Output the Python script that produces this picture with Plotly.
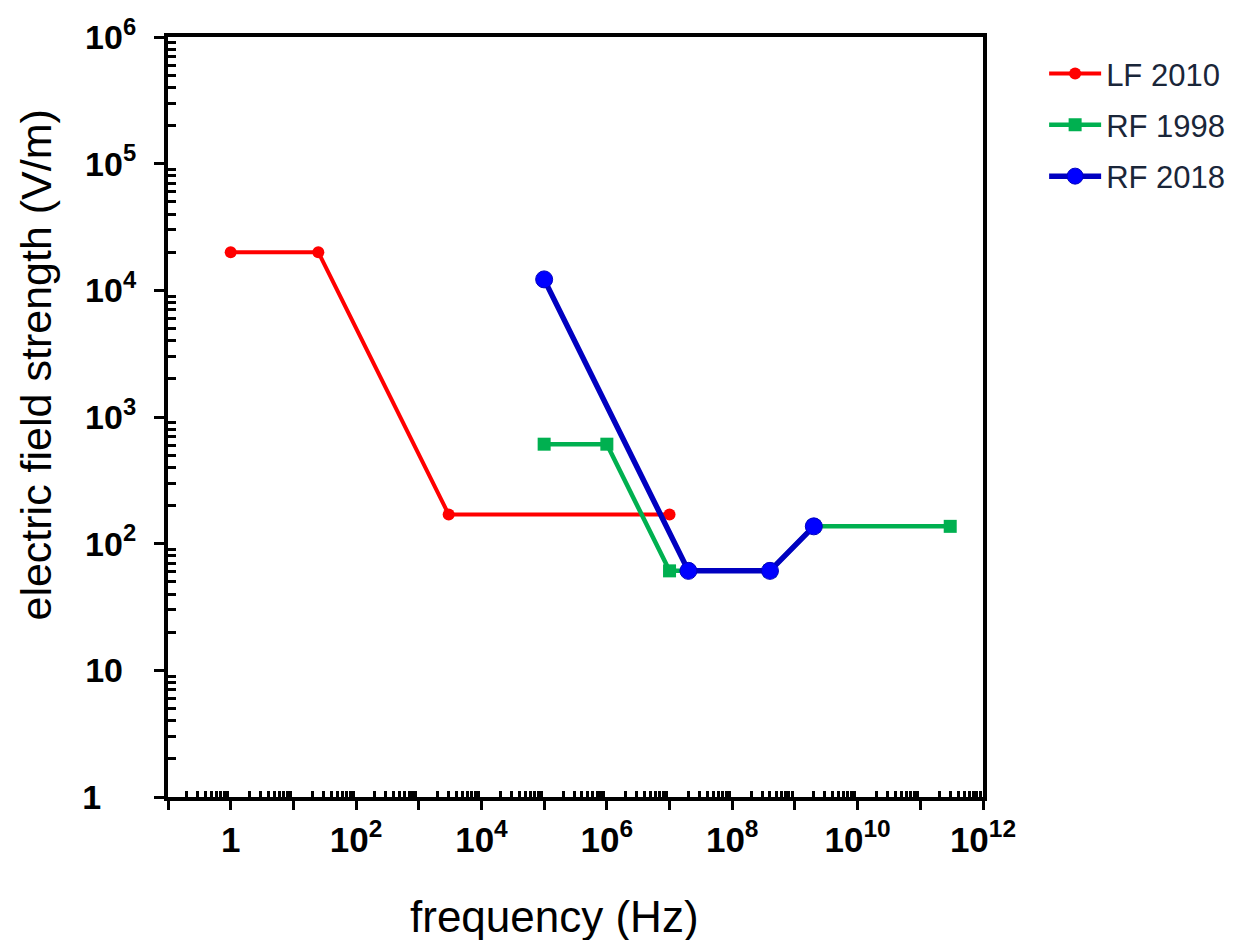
import plotly.graph_objects as go

# ---- data ----
lf2010_freq = [1, 25, 3000, 1e7]
lf2010_e = [20000, 20000, 170, 170]

rf1998_freq = [1e5, 1e6, 1e7, 4e8, 2e9, 3e11]
rf1998_e = [610, 610, 61, 61, 137, 137]

rf2018_freq = [1e5, 2e7, 4e8, 2e9]
rf2018_e = [12200, 61, 61, 137]

NB = "\u00a0"
x_tick_vals = [10.0 ** k for k in range(-1, 13)]
x_tick_text = ["", "<b>1</b>", "", "<b>10<sup>2</sup></b>", "", "<b>10<sup>4</sup></b>", "",
               "<b>10<sup>6</sup></b>", "", "<b>10<sup>8</sup></b>", "", "<b>10<sup>10</sup></b>", "",
               "<b>10<sup>12</sup></b>"]
y_tick_vals = [1, 10, 100, 1e3, 1e4, 1e5, 1e6]
y_tick_text = ["<b>1" + NB * 3 + "<sup>" + NB + "</sup></b>",
               "<b>10<sup>" + NB * 2 + "</sup></b>",
               "<b>10<sup>2</sup></b>", "<b>10<sup>3</sup></b>",
               "<b>10<sup>4</sup></b>", "<b>10<sup>5</sup></b>", "<b>10<sup>6</sup></b>"]

x_minor = [m * 10.0 ** k for k in range(-1, 12) for m in range(2, 10)]
y_minor = [m * 10.0 ** k for k in range(0, 6) for m in range(2, 10)]

FONT = "Liberation Sans, Arial, sans-serif"

fig = go.Figure()
fig.add_trace(go.Scatter(
    x=lf2010_freq, y=lf2010_e, name="LF 2010", mode="lines+markers",
    line=dict(color="#FF0000", width=4),
    marker=dict(symbol="circle", size=12, color="#FF0000"),
    legendgroup="a"))
fig.add_trace(go.Scatter(
    x=rf1998_freq, y=rf1998_e, name="RF 1998", mode="lines+markers",
    line=dict(color="#00B050", width=4.5),
    marker=dict(symbol="square", size=13, color="#00B050"),
    legendgroup="b"))
fig.add_trace(go.Scatter(
    x=rf2018_freq, y=rf2018_e, name="RF 2018", mode="lines+markers",
    line=dict(color="#0000C0", width=5.5),
    marker=dict(symbol="circle", size=17, color="#0000FF", line=dict(color="#0000C0", width=1)),
    legendgroup="c"))

fig.update_xaxes(
    type="log", range=[-1, 12], automargin=False,
    showline=True, linecolor="black", linewidth=4, mirror=True,
    showgrid=False, zeroline=False,
    tickmode="array", tickvals=x_tick_vals, ticktext=x_tick_text,
    ticks="outside", ticklen=9, tickwidth=3, tickcolor="black",
    tickfont=dict(family=FONT, size=35, color="black"),
    minor=dict(tickmode="array", tickvals=x_minor, ticks="inside", ticklen=6,
               tickwidth=3, tickcolor="black", showgrid=False),
)
fig.update_yaxes(
    type="log", range=[0, 6], automargin=False,
    showline=True, linecolor="black", linewidth=4, mirror=True,
    showgrid=False, zeroline=False,
    tickmode="array", tickvals=y_tick_vals, ticktext=y_tick_text,
    ticks="outside", ticklen=10, tickwidth=3, tickcolor="black",
    ticklabelstandoff=11,
    tickfont=dict(family=FONT, size=34, color="black"),
    minor=dict(tickmode="array", tickvals=y_minor, ticks="inside", ticklen=8,
               tickwidth=3, tickcolor="black", showgrid=False),
)

fig.add_annotation(text="frequency (Hz)", xref="paper", yref="paper",
                   x=0.474, y=-0.157, xanchor="center", yanchor="middle",
                   showarrow=False, font=dict(family=FONT, size=44, color="black"))
fig.add_annotation(text="electric field strength (V/m)", xref="paper", yref="paper",
                   x=-0.162, y=0.569, xanchor="center", yanchor="middle", textangle=-90,
                   showarrow=False, font=dict(family=FONT, size=43, color="black"))

fig.update_layout(
    width=1275, height=940,
    margin=dict(l=168, r=292, t=37, b=143),
    plot_bgcolor="white", paper_bgcolor="white",
    showlegend=True,
    legend=dict(x=1.075, y=0.987, xanchor="left", yanchor="top",
                font=dict(family=FONT, size=31, color="#1a2639"),
                traceorder="grouped", tracegroupgap=8, itemwidth=52,
                bgcolor="rgba(0,0,0,0)"),
)

fig.write_html("out.html", config={"displayModeBar": False},
               post_script="document.body.style.margin='0px';document.body.style.overflow='hidden';")
